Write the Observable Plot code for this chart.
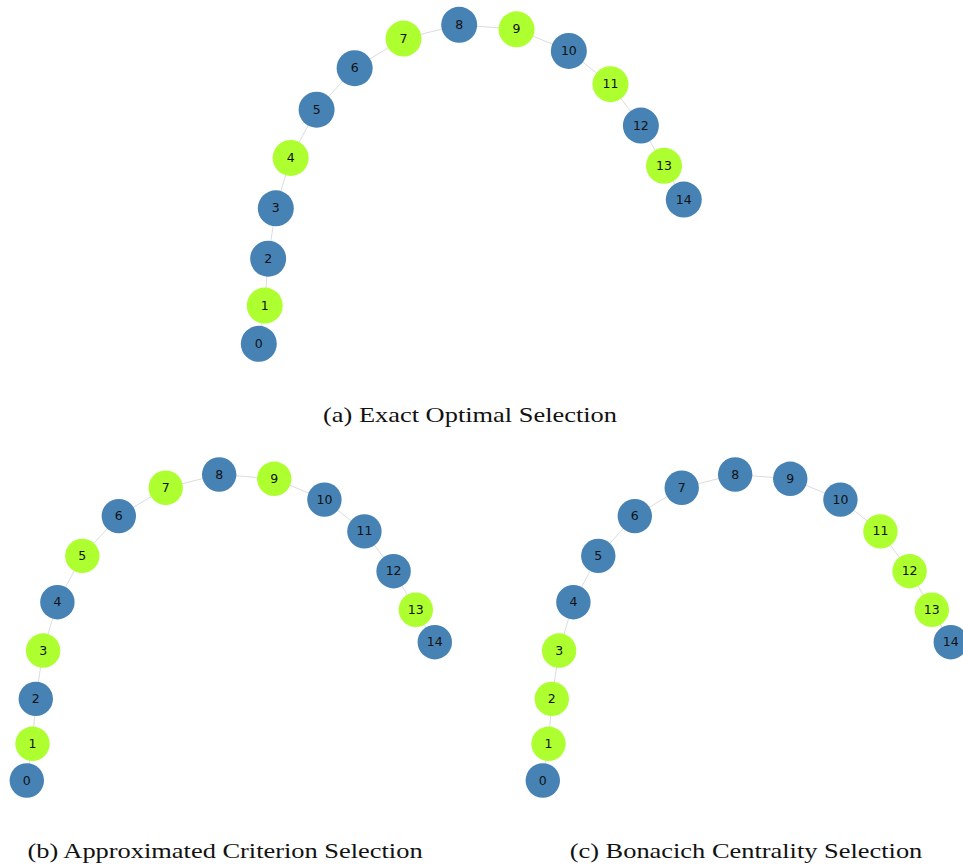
<!DOCTYPE html>
<html>
<head>
<meta charset="utf-8">
<script src="https://cdn.jsdelivr.net/npm/d3@7"></script>
<script src="https://cdn.jsdelivr.net/npm/@observablehq/plot@0.6"></script>
<style>
  html, body { margin: 0; padding: 0; background: #fff; }
  #figure { position: relative; width: 963px; height: 866px; overflow: hidden; background: #fff; }
  .panel { position: absolute; }
  .caption {
    position: absolute;
    width: 600px;
    font-family: "Liberation Serif", "Times New Roman", serif;
    font-size: 22px;
    line-height: 1;
    color: #111;
    text-align: center;
    white-space: nowrap;
    transform: scaleX(1.2);
    transform-origin: 50% 50%;
  }
</style>
</head>
<body>
<div id="figure"></div>
<script>
// Path graph of 15 nodes; layout coordinates (x right, y up)
const nodeIds = [0, 1, 2, 3, 4, 5, 6, 7, 8, 9, 10, 11, 12, 13, 14];
const layoutX = [-1.000, -0.972, -0.956, -0.920, -0.850, -0.728, -0.549, -0.319, -0.057, 0.213, 0.459, 0.655, 0.798, 0.907, 1.000];
const layoutY = [-0.750, -0.570, -0.350, -0.113, 0.124, 0.351, 0.546, 0.685, 0.750, 0.729, 0.627, 0.471, 0.276, 0.087, -0.072];
const edgeList = [[0, 1], [1, 2], [2, 3], [3, 4], [4, 5], [5, 6], [6, 7], [7, 8], [8, 9], [9, 10], [10, 11], [11, 12], [12, 13], [13, 14]];

// Selected node sets for the three strategies
const selectedExact = [1, 4, 7, 9, 11, 13];
const selectedApprox = [1, 3, 5, 7, 9, 13];
const selectedBonacich = [1, 2, 3, 11, 12, 13];

const captions = [
  "(a) Exact Optimal Selection",
  "(b) Approximated Criterion Selection",
  "(c) Bonacich Centrality Selection"
];

const selectedColor = "#adff2f";
const otherColor = "#4682b4";
const edgeColor = "#dcdcdc";

const nodes = nodeIds.map((id, i) => ({id, x: layoutX[i], y: layoutY[i]}));
const edges = edgeList.map(([a, b]) => ({x1: layoutX[a], y1: layoutY[a], x2: layoutX[b], y2: layoutY[b]}));

function graphPanel({selected, width, height, xRange, yRange, r}) {
  const sel = new Set(selected);
  return Plot.plot({
    width, height,
    margin: 0,
    style: {background: "transparent", overflow: "visible"},
    x: {domain: [-1, 1], range: xRange, axis: null},
    y: {domain: [-0.75, 0.75], range: yRange, axis: null},
    color: {type: "identity"},
    marks: [
      Plot.link(edges, {x1: "x1", y1: "y1", x2: "x2", y2: "y2", stroke: edgeColor, strokeWidth: 1}),
      Plot.dot(nodes, {x: "x", y: "y", r, fill: d => sel.has(d.id) ? selectedColor : otherColor, stroke: "none"}),
      Plot.text(nodes, {x: "x", y: "y", text: d => String(d.id), fill: "#111", fontSize: 12.5, fontFamily: "DejaVu Sans"})
    ]
  });
}

const fig = document.getElementById("figure");

function place(el, left, top) {
  el.classList.add("panel");
  el.style.left = left + "px";
  el.style.top = top + "px";
  fig.appendChild(el);
}

place(graphPanel({selected: selectedExact, width: 963, height: 390, xRange: [258.3, 683.3], yRange: [343.3, 24.3], r: 18}), 0, 0);
place(graphPanel({selected: selectedApprox, width: 481, height: 370, xRange: [26.3, 434.3], yRange: [340, 34], r: 17.2}), 0, 440);
place(graphPanel({selected: selectedBonacich, width: 482, height: 370, xRange: [61.3, 469.3], yRange: [340, 34], r: 17.2}), 481, 440);

function caption(text, cx, top) {
  const d = document.createElement("div");
  d.className = "caption";
  d.textContent = text;
  d.style.top = top + "px";
  d.style.left = (cx - 300) + "px";
  fig.appendChild(d);
}
caption(captions[0], 470, 404.3);
caption(captions[1], 225, 840);
caption(captions[2], 745.8, 840);
</script>
</body>
</html>
